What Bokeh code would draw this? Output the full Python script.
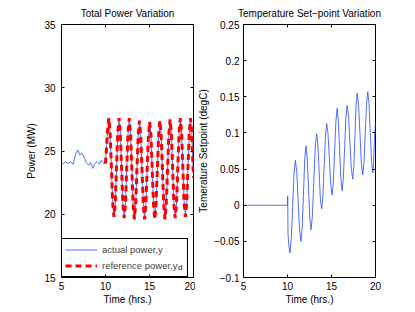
from bokeh.plotting import figure
from bokeh.layouts import row
from bokeh.models import (Legend, LegendItem, LinearAxis, FixedTicker, Range1d,
                          Label, CustomJSTickFormatter)
from bokeh.embed import file_html
from bokeh.resources import INLINE

FONT = "Liberation Sans"

# ---------------- data ----------------
x_ticks = [5, 10, 15, 20]
power_ticks = [15, 20, 25, 30, 35]
temp_ticks = [-0.1, -0.05, 0, 0.05, 0.1, 0.15, 0.2, 0.25]

# actual power before the excitation starts
pre_t = [5.0, 5.19, 5.45, 5.72, 6.02, 6.33, 6.59, 6.85, 7.08, 7.35,
         7.61, 7.84, 8.1, 8.3, 8.56, 8.78, 9.06, 9.32, 9.51, 9.81]
pre_p = [23.95, 24.0, 24.15, 24.03, 24.13, 23.95, 24.74, 25.08, 24.7, 24.8,
         24.42, 24.03, 23.87, 24.08, 23.63, 24.0, 24.15, 23.95, 24.27, 24.0]

# time grid after 10 hrs
osc_t = [10.0, 10.09, 10.235,
         10.38, 10.525, 10.67, 10.815, 10.96, 11.105, 11.25, 11.395,
         11.54, 11.685, 11.83, 11.975, 12.12, 12.265, 12.41, 12.555,
         12.70, 12.845, 12.99, 13.135, 13.28, 13.425, 13.57, 13.715,
         13.86, 14.005, 14.15, 14.295, 14.44, 14.585, 14.73, 14.875,
         15.02, 15.165, 15.31, 15.455, 15.60, 15.745, 15.89, 16.035,
         16.18, 16.325, 16.47, 16.615, 16.76, 16.905, 17.05, 17.195,
         17.34, 17.485, 17.63, 17.775, 17.92, 18.065, 18.21, 18.355,
         18.50, 18.645, 18.79, 18.935, 19.08, 19.225, 19.37, 19.515,
         19.66, 19.805, 19.95, 20.0]

ref_p = [24.0, 25.0, 26.6,
         27.6, 26.4, 23.7, 20.9, 19.8, 20.9, 23.7, 26.4,
         27.6, 26.4, 23.6, 20.8, 19.7, 20.8, 23.6, 26.4,
         27.6, 26.4, 23.6, 20.8, 19.6, 20.8, 23.5, 26.2,
         27.4, 26.2, 23.5, 20.8, 19.6, 20.8, 23.5, 26.2,
         27.3, 26.2, 23.5, 20.8, 19.6, 20.8, 23.5, 26.2,
         27.4, 26.2, 23.5, 20.8, 19.6, 20.8, 23.5, 26.3,
         27.5, 26.3, 23.6, 20.8, 19.7, 20.8, 23.6, 26.4,
         27.6, 26.4, 23.7, 20.9, 19.8, 20.9, 23.7, 26.4,
         27.6, 26.4, 23.7, 22.9]

act_p = [24.1, 25.1, 26.5,
         27.5, 26.3, 23.8, 21.0, 19.9, 20.8, 23.5, 26.2,
         27.4, 26.5, 23.7, 20.9, 19.8, 20.7, 23.4, 26.3,
         27.5, 26.5, 23.8, 20.9, 19.7, 20.7, 23.3, 26.1,
         27.3, 26.3, 23.6, 20.9, 19.7, 20.7, 23.4, 26.0,
         27.2, 26.3, 23.6, 20.9, 19.7, 20.7, 23.3, 26.1,
         27.3, 26.3, 23.6, 20.9, 19.7, 20.6, 23.4, 26.2,
         27.4, 26.4, 23.7, 20.9, 19.8, 20.7, 23.5, 26.3,
         27.5, 26.5, 23.8, 21.0, 19.9, 20.8, 23.6, 26.3,
         27.5, 26.5, 23.8, 23.1]

temp_t = [5.0, 10.0, 10.02, 10.06, 10.15, 10.28,
          10.43, 10.585, 10.74, 10.89,
          11.05, 11.21, 11.37, 11.53,
          11.67, 11.815, 11.96, 12.10,
          12.24, 12.385, 12.53, 12.67,
          12.83, 12.99, 13.15, 13.31,
          13.45, 13.595, 13.74, 13.88,
          14.02, 14.165, 14.31, 14.45,
          14.605, 14.76, 14.915, 15.07,
          15.21, 15.355, 15.50, 15.64,
          15.78, 15.92, 16.06, 16.20,
          16.345, 16.49, 16.635, 16.78,
          16.94, 17.095, 17.25, 17.41,
          17.54, 17.665, 17.79, 17.92,
          18.08, 18.235, 18.39, 18.55,
          18.69, 18.835, 18.98, 19.12,
          19.26, 19.405, 19.55, 19.69,
          19.77, 19.85, 19.93, 20.0]
temp_v = [0.0, 0.0, 0.013, -0.04, -0.055, -0.066,
          -0.047, -0.002, 0.043, 0.062,
          0.046, 0.006, -0.034, -0.050,
          -0.031, 0.016, 0.063, 0.082,
          0.065, 0.024, -0.017, -0.034,
          -0.015, 0.033, 0.080, 0.099,
          0.084, 0.046, 0.008, -0.005,
          0.012, 0.054, 0.095, 0.113,
          0.099, 0.064, 0.028, 0.014,
          0.032, 0.074, 0.116, 0.134,
          0.117, 0.077, 0.037, 0.020,
          0.037, 0.079, 0.121, 0.138,
          0.123, 0.087, 0.051, 0.036,
          0.053, 0.096, 0.138, 0.155,
          0.138, 0.099, 0.058, 0.042,
          0.059, 0.100, 0.140, 0.157,
          0.141, 0.101, 0.061, 0.045,
          0.055, 0.080, 0.100, 0.115]

blank = CustomJSTickFormatter(code="return '';")


def style(p, yticks, ylabel, lab_standoff, axlab_standoff, fmt=None):
    p.xgrid.visible = False
    p.ygrid.visible = False
    p.outline_line_color = "black"
    p.outline_line_alpha = 1.0
    p.title.text_font = FONT
    p.title.text_font_size = "10px"
    p.title.text_font_style = "normal"
    p.title.align = "center"
    p.title.text_color = "black"
    p.title.standoff = 11
    for ax, ticks in ((p.xaxis[0], x_ticks), (p.yaxis[0], yticks)):
        ax.ticker = FixedTicker(ticks=ticks)
        ax.major_tick_in = 3
        ax.major_tick_out = 0
        ax.minor_tick_line_color = None
        ax.axis_line_color = "black"
        ax.major_tick_line_color = "black"
        ax.major_label_text_font = FONT
        ax.major_label_text_font_size = "10px"
        ax.major_label_text_color = "black"
        ax.axis_label_text_font = FONT
        ax.axis_label_text_font_size = "10px"
        ax.axis_label_text_font_style = "normal"
        ax.axis_label_text_color = "black"
    p.xaxis[0].major_label_standoff = 4
    p.xaxis[0].axis_label_standoff = 1
    p.yaxis[0].major_label_standoff = lab_standoff
    p.yaxis[0].axis_label_standoff = axlab_standoff
    p.xaxis[0].axis_label = "Time (hrs.)"
    p.yaxis[0].axis_label = ylabel
    if fmt is not None:
        p.yaxis[0].formatter = fmt
    # mirrored tick marks on top and right (no labels)
    for side, ticks in (("right", yticks), ("above", x_ticks)):
        a = LinearAxis(ticker=FixedTicker(ticks=ticks), formatter=blank,
                       major_label_text_color=None,
                       major_label_standoff=0,
                       axis_line_color=None,
                       major_tick_in=3, major_tick_out=0,
                       minor_tick_line_color=None,
                       major_tick_line_color="black")
        p.add_layout(a, side)


# ---------------- left panel ----------------
p1 = figure(frame_width=132, frame_height=253, output_backend="svg",
            toolbar_location=None, title="Total Power Variation",
            x_range=Range1d(5, 20), y_range=Range1d(15, 35),
            min_border_left=61, min_border_right=2, min_border_top=0,
            min_border_bottom=0)
style(p1, power_ticks, "Power (MW)", 6, 4)

r_act = p1.line(pre_t + osc_t, pre_p + act_p, line_color="#3355ff",
                line_width=1.0, line_alpha=0.85)
r_ref = p1.line(osc_t, ref_p, line_color="#ff0000", line_width=3,
                line_dash="6 4")

legend = Legend(items=[LegendItem(label="actual power,y", renderers=[r_act]),
                       LegendItem(label="reference power,y", renderers=[r_ref])],
                location="bottom_left", margin=0, padding=3, spacing=1,
                glyph_width=32, glyph_height=15, label_height=15,
                label_width=82, label_standoff=5, label_text_font=FONT,
                label_text_font_size="9.5px", border_line_color="black",
                border_line_alpha=1.0, background_fill_alpha=0.0)
p1.add_layout(legend)
sub_d = Label(x=18.24, y=15.4, text="d", text_font=FONT,
              text_font_size="8px", text_color="black", level="overlay")
p1.add_layout(sub_d)

# ---------------- right panel ----------------
fmt = CustomJSTickFormatter(code="""
    var s = tick.toFixed(2).replace(/0+$/, '').replace(/\\.$/, '');
    if (s === '-0') { s = '0'; }
    return s.replace('-', '\\u2212');
""")
p2 = figure(frame_width=132, frame_height=253, output_backend="svg",
            toolbar_location=None, title="Temperature Set\u2212point Variation",
            x_range=Range1d(5, 20), y_range=Range1d(-0.1, 0.25),
            min_border_left=40, min_border_right=20, min_border_top=0,
            min_border_bottom=0)
style(p2, temp_ticks, "Temerature Setpoint (degC)", 4, 2, fmt)
p2.line(temp_t, temp_v, line_color="#3355ff", line_width=1.0, line_alpha=0.85)

layout = row(p1, p2)
open("out.html", "w").write(file_html(layout, INLINE))
